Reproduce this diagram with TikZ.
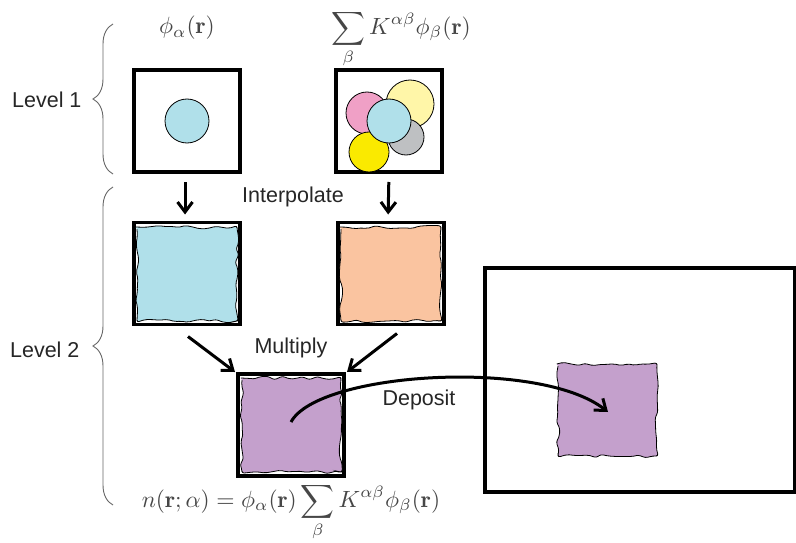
\documentclass[tikz,border=0pt]{standalone}
\usepackage{amsmath}
\usepackage{fontspec}
\newfontfamily\arial{Liberation Sans}
\usetikzlibrary{arrows.meta,calc,decorations.pathreplacing,decorations.pathmorphing}
\definecolor{cblue}{RGB}{176,224,234}
\definecolor{cpink}{RGB}{240,160,198}
\definecolor{cly}{RGB}{255,246,168}
\definecolor{cgray}{RGB}{190,192,194}
\definecolor{cyel}{RGB}{250,234,0}
\definecolor{cpeach}{RGB}{250,196,160}
\definecolor{cpurp}{RGB}{196,160,204}
\definecolor{mathgray}{RGB}{70,70,70}
\newcommand{\mth}[1]{\scalebox{2.35}{$\displaystyle #1$}}
\begin{document}
\begin{tikzpicture}[x=1pt,y=-1pt,
  frame/.style={draw,line width=3.5pt,minimum width=106pt,minimum height=102pt,inner sep=0pt,outer sep=0pt},
  ball/.style={draw,line width=0.8pt},
  wob/.style={draw,line width=0.8pt,decorate,decoration={random steps,segment length=7pt,amplitude=1.8pt},rounded corners=2.2pt},
  lbl/.style={font=\arial\fontsize{21.5}{24}\selectfont,text=black!85},
  mthn/.style={text=mathgray,inner sep=0pt},
  arr/.style={line width=3pt,-{Straight Barb[length=10pt,width=15pt,line width=3pt]}},
  brc/.style={draw=black!60,line width=0.9pt,decorate,decoration={brace,amplitude=20pt}}]
\useasboundingbox (0,0) rectangle (796,543);
\pgfmathsetseed{7}
% level 1 boxes
\node[frame] (A) at (187,121) {};
\node[frame] (B) at (389,121) {};
\draw[ball,fill=cblue] (187,121) circle (22);
\draw[ball,fill=cpink] (367,113) circle (21);
\draw[ball,fill=cly] (410,104) circle (24);
\draw[ball,fill=cgray] (406,137) circle (18);
\draw[ball,fill=cyel] (369,152) circle (20);
\draw[ball,fill=cblue] (389,121) circle (22);
% level 2 boxes
\node[frame] (C) at (187,273.5) {};
\node[frame] (D) at (391,273.5) {};
\node[frame] (E) at (291,425) {};
\draw[wob,fill=cblue] (137,227) rectangle (237,321);
\draw[wob,fill=cpeach] (341,227) rectangle (441,321);
\draw[wob,fill=cpurp] (242,378) rectangle (341,472);
% big box
\node[draw,line width=3.5pt,minimum width=310pt,minimum height=224pt,inner sep=0pt] (G) at (640,380) {};
\draw[wob,fill=cpurp] (558,364) rectangle (657,456);
\coordinate (F) at (608,412);
\coordinate (Es) at (291,422);
% arrows
\draw[arr,shorten <=10pt,shorten >=8pt] ([xshift=-2pt]A.south) -- ([xshift=-2pt]C.north);
\draw[arr,shorten <=10pt,shorten >=8pt] (B.south) -- ([xshift=-3pt]D.north);
\draw[arr] ($(C.south)+(1,12)$) -- ($(E.north west)+(-3,-2)$);
\draw[arr] ($(D.south)+(6,9)$) -- ($(E.north east)+(3,-2)$);
\draw[arr] (Es) .. controls (318,372) and (540,358) .. (F);
% labels
\node[lbl] (int) at (293,197) {Interpolate};
\node[lbl] (mul) at (291,348) {Multiply};
\node[lbl] (dep) at (419,400) {Deposit};
\node[lbl,anchor=east] (l1) at (85,100) {Level 1};
\node[lbl,anchor=east] (l2) at (83,350) {Level 2};
\draw[brc] (113,174) -- (113,24);
\draw[brc] (113,505) -- (113,187);
% math
\node[mthn] (m1) at (187,28) {\mth{\phi_\alpha(\mathbf{r})}};
\node[mthn] (m2) at (401,39) {\mth{\sum_\beta K^{\alpha\beta}\phi_\beta(\mathbf{r})}};
\node[mthn] (m3) at (291,512) {\mth{n(\mathbf{r};\alpha)=\phi_\alpha(\mathbf{r})\sum_\beta K^{\alpha\beta}\phi_\beta(\mathbf{r})}};
\end{tikzpicture}
\end{document}
